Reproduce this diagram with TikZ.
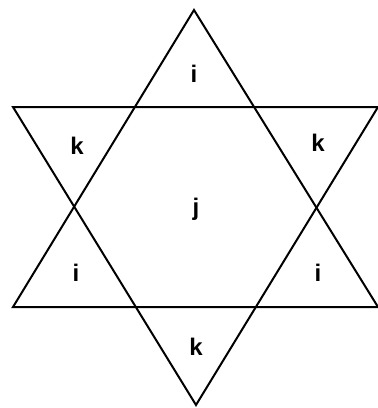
\documentclass[tikz,border=0pt]{standalone}
\usepackage{fontspec}
\setmainfont{Liberation Sans}
\usetikzlibrary{positioning}
\tikzset{
  lado/.style={line width=2pt, line join=miter},
  letra/.style={font=\fontsize{24}{28}\selectfont\bfseries, inner sep=0pt},
}
\begin{document}
\begin{tikzpicture}[x=1pt,y=-1pt]
  \useasboundingbox (0,0) rectangle (378,408);
  % vertices
  \coordinate (cima) at (194,10);
  \coordinate (baseE) at (13,307);
  \coordinate (baseD) at (378,307);
  \coordinate (topoE) at (13,107);
  \coordinate (topoD) at (378,107);
  \coordinate (baixo) at (196,405);
  \draw[lado] (cima) -- (baseD) -- (baseE) -- cycle;
  \draw[lado] (topoE) -- (topoD) -- (baixo) -- cycle;
  % letras
  \node[letra] (iA) at (194,74) {i};
  \node[letra] (kE) at (77,146) {k};
  \node[letra] (kD) at (318,143) {k};
  \node[letra] (j) at (196,209) {j};
  \node[letra] (iE) at (76,273) {i};
  \node[letra] (iD) at (318,273) {i};
  \node[letra] (kB) at (196,347) {k};
\end{tikzpicture}
\end{document}
